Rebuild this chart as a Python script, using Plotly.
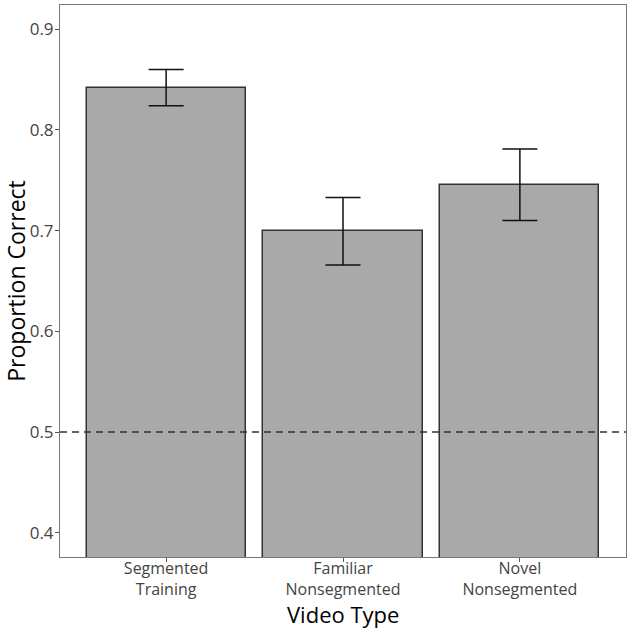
import plotly.graph_objects as go

categories = ["Segmented<br>Training", "Familiar<br>Nonsegmented", "Novel<br>Nonsegmented"]
values = [0.842, 0.700, 0.745]
err_upper = [0.860, 0.733, 0.781]
err_lower = [0.824, 0.666, 0.710]
y_ticks = [0.4, 0.5, 0.6, 0.7, 0.8, 0.9]
chance = 0.5

x_idx = list(range(len(categories)))
plus = [u - v for u, v in zip(err_upper, values)]
minus = [v - l for v, l in zip(values, err_lower)]

fig = go.Figure()
fig.add_trace(go.Bar(
    x=x_idx, y=values, width=0.9,
    marker=dict(color="#A9A9A9", line=dict(color="#333333", width=1.5)),
    error_y=dict(type="data", symmetric=False, array=plus, arrayminus=minus,
                 color="#111111", thickness=1.5, width=17.5),
    showlegend=False,
))

fig.add_shape(type="line", xref="paper", x0=0, x1=1, yref="y", y0=chance, y1=chance,
              line=dict(color="#333333", width=1.5, dash="7px,5px"))

fig.add_annotation(text="Video Type", xref="paper", yref="paper", x=0.5, y=0,
                   xanchor="center", yanchor="middle", yshift=-57, showarrow=False,
                   borderpad=0,
                   font=dict(size=22, color="black", family="Open Sans"))

fig.update_layout(
    width=630, height=629,
    margin=dict(l=60, r=4, t=5, b=72),
    plot_bgcolor="white", paper_bgcolor="white",
    font=dict(family="Open Sans", color="#333333"),
    bargap=0,
)
fig.update_xaxes(
    range=[-0.6, 2.6], tickmode="array", tickvals=x_idx, ticktext=categories,
    tickfont=dict(size=16, color="#444444"),
    ticks="outside", ticklen=4, tickcolor="#555555", ticklabelstandoff=-7,
    showline=True, linecolor="#777777", linewidth=1, mirror=True,
    showgrid=False, zeroline=False, automargin=False,
)
fig.update_yaxes(
    range=[0.376, 0.924], tickmode="array", tickvals=y_ticks,
    ticktext=[f"{t:.1f}" for t in y_ticks],
    tickfont=dict(size=17, color="#444444"),
    ticks="outside", ticklen=4, tickcolor="#555555", ticklabelstandoff=-2,
    showline=True, linecolor="#777777", linewidth=1, mirror=True,
    showgrid=False, zeroline=False,
    title=dict(text="Proportion Correct", font=dict(size=23, color="black"), standoff=10),
)

fig.write_html("out.html")
